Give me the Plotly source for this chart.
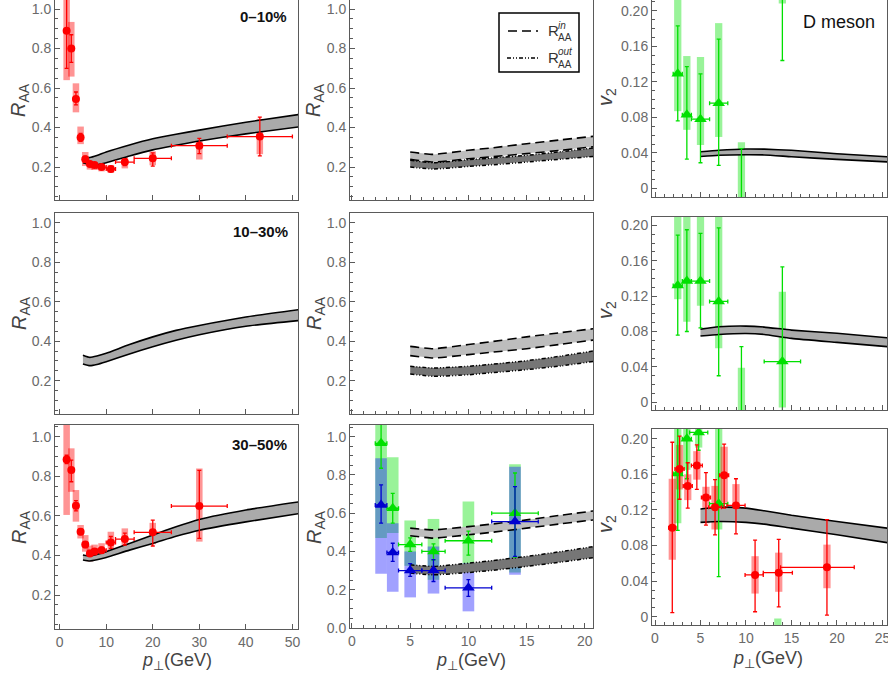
import plotly.graph_objects as go

W, H = 888, 676

# ---------------- theory bands ----------------
band_c1_x = [5, 6.5, 8, 10, 15, 20, 25, 30, 40, 52]
raa010_lo = [0.222, 0.212, 0.212, 0.222, 0.256, 0.287, 0.31, 0.332, 0.368, 0.405]
raa010_hi = [0.249, 0.248, 0.258, 0.276, 0.312, 0.343, 0.366, 0.387, 0.427, 0.468]
raa1030_lo = [0.285, 0.276, 0.282, 0.296, 0.335, 0.372, 0.405, 0.433, 0.476, 0.506]
raa1030_hi = [0.329, 0.318, 0.325, 0.339, 0.383, 0.422, 0.455, 0.48, 0.523, 0.562]
raa3050_lo = [0.377, 0.372, 0.378, 0.39, 0.427, 0.461, 0.497, 0.528, 0.57, 0.614]
raa3050_hi = [0.402, 0.397, 0.405, 0.419, 0.461, 0.503, 0.545, 0.582, 0.63, 0.673]

band_c2_x = [5, 7, 10, 12, 15, 18, 21]
in010_hi = [0.276, 0.264, 0.285, 0.297, 0.318, 0.338, 0.357]
in010_lo = [0.239, 0.225, 0.242, 0.252, 0.268, 0.285, 0.305]
out010_hi = [0.234, 0.222, 0.237, 0.246, 0.259, 0.278, 0.298]
out010_lo = [0.200, 0.190, 0.203, 0.211, 0.225, 0.240, 0.255]
in1030_hi = [0.374, 0.362, 0.383, 0.398, 0.422, 0.444, 0.465]
in1030_lo = [0.327, 0.315, 0.332, 0.344, 0.362, 0.385, 0.408]
out1030_hi = [0.273, 0.264, 0.273, 0.283, 0.301, 0.325, 0.353]
out1030_lo = [0.234, 0.222, 0.230, 0.240, 0.256, 0.275, 0.300]
in3050_hi = [0.522, 0.513, 0.530, 0.543, 0.565, 0.590, 0.614]
in3050_lo = [0.482, 0.470, 0.487, 0.500, 0.522, 0.545, 0.567]
out3050_hi = [0.330, 0.322, 0.339, 0.352, 0.374, 0.400, 0.428]
out3050_lo = [0.287, 0.278, 0.290, 0.301, 0.322, 0.345, 0.370]

band_c3_x = [5, 7, 10, 12, 15, 20, 26]
v2010_hi = [0.0413, 0.043, 0.0445, 0.0443, 0.043, 0.0392, 0.0355]
v2010_lo = [0.036, 0.0375, 0.038, 0.0378, 0.0358, 0.0328, 0.0298]
v21030_hi = [0.0827, 0.0853, 0.0861, 0.085, 0.0816, 0.078, 0.0725]
v21030_lo = [0.075, 0.0767, 0.0778, 0.0767, 0.0722, 0.0677, 0.0625]
v23050_hi = [0.121, 0.123, 0.122, 0.119, 0.114, 0.107, 0.0988]
v23050_lo = [0.106, 0.107, 0.106, 0.104, 0.0995, 0.092, 0.0825]

# ---------------- data: R_AA 0-10% ----------------
r010_x = [1.5, 2.5, 3.5, 4.5, 5.5, 6.5, 7.5, 9, 11, 14, 20, 30, 43]
r010_y = [0.89, 0.80, 0.545, 0.35, 0.24, 0.215, 0.21, 0.20, 0.19, 0.225, 0.244, 0.308, 0.354]
r010_xerr = [0.5, 0.5, 0.5, 0.5, 0.5, 0.5, 0.5, 1, 1, 2, 4, 6, 7]
r010_stat_hi = [0.2, 0.07, 0.035, 0.02, 0.015, 0.012, 0.012, 0.012, 0.012, 0.018, 0.028, 0.037, 0.099]
r010_stat_lo = [0.19, 0.07, 0.03, 0.02, 0.015, 0.012, 0.012, 0.012, 0.012, 0.018, 0.039, 0.04, 0.098]
r010_sys_hi = [0.22, 0.135, 0.079, 0.055, 0.036, 0.028, 0.025, 0.022, 0.02, 0.028, 0.035, 0.066, 0.09]
r010_sys_lo = [0.25, 0.142, 0.068, 0.034, 0.035, 0.028, 0.025, 0.022, 0.02, 0.032, 0.035, 0.07, 0.089]

# ---------------- data: R_AA 30-50% ----------------
r3050_x = [1.5, 2.5, 3.5, 4.5, 5.5, 6.5, 7.5, 9, 11, 14, 20, 30]
r3050_y = [0.885, 0.832, 0.651, 0.52, 0.455, 0.41, 0.42, 0.427, 0.466, 0.483, 0.517, 0.65]
r3050_xerr = [0.5, 0.5, 0.5, 0.5, 0.5, 0.5, 0.5, 1, 1, 2, 4, 6]
r3050_stat_hi = [0.022, 0.05, 0.026, 0.015, 0.015, 0.015, 0.015, 0.015, 0.03, 0.03, 0.062, 0.18]
r3050_stat_lo = [0.02, 0.059, 0.025, 0.015, 0.015, 0.015, 0.015, 0.015, 0.03, 0.03, 0.069, 0.164]
r3050_sys_hi = [0.2, 0.11, 0.08, 0.034, 0.048, 0.04, 0.035, 0.035, 0.054, 0.054, 0.048, 0.19]
r3050_sys_lo = [0.28, 0.11, 0.08, 0.034, 0.036, 0.04, 0.035, 0.035, 0.056, 0.056, 0.06, 0.18]

# ---------------- data: R_AA in/out plane 30-50% ----------------
rin_x = [2.5, 3.5, 5, 7, 10, 14]
rin_y = [0.965, 0.626, 0.436, 0.40, 0.456, 0.60]
rin_xerr = [0.5, 0.5, 1, 1, 2, 2]
rin_stat_hi = [0.1, 0.078, 0.035, 0.04, 0.05, 0.21]
rin_stat_lo = [0.13, 0.078, 0.035, 0.045, 0.075, 0.23]
rin_sys_hi = [0.15, 0.266, 0.126, 0.17, 0.205, 0.256]
rin_sys_lo = [0.495, 0.13, 0.111, 0.148, 0.134, 0.31]

rout_x = [2.5, 3.5, 5, 7, 10, 14]
rout_y = [0.643, 0.395, 0.30, 0.30, 0.21, 0.556]
rout_xerr = [0.5, 0.5, 1, 1, 2, 2]
rout_stat_hi = [0.105, 0.048, 0.036, 0.057, 0.043, 0.183]
rout_stat_lo = [0.095, 0.047, 0.03, 0.057, 0.045, 0.182]
rout_sys_hi = [0.244, 0.153, 0.10, 0.126, 0.13, 0.287]
rout_sys_lo = [0.36, 0.205, 0.14, 0.12, 0.123, 0.278]

# ---------------- data: v2 ----------------
v010_x = [2.5, 3.5, 5, 7, 9.5, 14]
v010_y = [0.129, 0.083, 0.078, 0.096, -0.03, 0.27]
v010_xerr = [0.5, 0.5, 1, 1, 1.5, 2]
v010_stat_hi = [0.054, 0.054, 0.051, 0.072, 0.075, 0.1]
v010_stat_lo = [0.053, 0.05, 0.049, 0.07, 0.1, 0.126]
v010_sys_hi = [0.1, 0.066, 0.07, 0.09, 0.082, 0.06]
v010_sys_lo = [0.042, 0.017, 0.029, 0.038, 0.1, 0.062]

v1030_x = [2.5, 3.5, 5, 7, 9.5, 14]
v1030_y = [0.132, 0.137, 0.137, 0.114, -0.03, 0.046]
v1030_xerr = [0.5, 0.5, 1, 1, 1.5, 2]
v1030_stat_hi = [0.057, 0.058, 0.054, 0.083, 0.093, 0.107]
v1030_stat_lo = [0.056, 0.057, 0.053, 0.084, 0.1, 0.07]
v1030_sys_hi = [0.1, 0.1, 0.1, 0.1, 0.069, 0.079]
v1030_sys_lo = [0.0155, 0.046, 0.028, 0.053, 0.1, 0.052]

v3050r_x = [1.9, 2.7, 3.6, 4.6, 5.6, 6.6, 7.6, 8.9, 11, 13.6, 18.9]
v3050r_y = [0.100, 0.166, 0.147, 0.170, 0.134, 0.123, 0.159, 0.125, 0.047, 0.0495, 0.0555]
v3050r_xerr_lo = [0.4, 0.5, 0.5, 0.6, 0.5, 0.7, 0.5, 1.0, 1.1, 1.7, 5.1]
v3050r_xerr_hi = [0.4, 0.5, 0.5, 0.6, 0.5, 0.7, 0.5, 1.0, 0.9, 1.5, 3.0]
v3050r_stat_hi = [0.096, 0.037, 0.026, 0.023, 0.028, 0.031, 0.035, 0.03, 0.039, 0.0375, 0.0535]
v3050r_stat_lo = [0.0955, 0.034, 0.025, 0.027, 0.031, 0.031, 0.037, 0.032, 0.0414, 0.0385, 0.0536]
v3050r_sys_hi = [0.055, 0.027, 0.013, 0.016, 0.012, 0.024, 0.032, 0.024, 0.021, 0.0225, 0.0255]
v3050r_sys_lo = [0.036, 0.023, 0.016, 0.016, 0.029, 0.025, 0.031, 0.016, 0.021, 0.0215, 0.0235]

v3050g_x = [2.5, 3.5, 4.8, 7, 13.5]
v3050g_y = [0.161, 0.20, 0.207, 0.127, -0.06]
v3050g_xerr = [0.5, 0.5, 1, 1, 1.5]
v3050g_stat_hi = [0.1, 0.1, 0.1, 0.1, 0.05]
v3050g_stat_lo = [0.064, 0.045, 0.02, 0.082, 0.05]
v3050g_sys_hi = [0.1, 0.1, 0.005, 0.1, 0.058]
v3050g_sys_lo = [0.056, 0.035, 0.017, 0.029, 0.05]

# ---------------- tick labels / texts ----------------
centralities = ["0\u201310%", "10\u201330%", "30\u201350%"]
v2_tickvals = [0, 0.04, 0.08, 0.12, 0.16, 0.20]
v2_ticktext = ["0", "0.04", "0.08", "0.12", "0.16", "0.20"]

# ---------------- styling ----------------
FONT = "Liberation Sans, Arial, sans-serif"
TICKC = "#6a6a6a"
LINEC = "#5a5a5a"
RED = "#ff0000"
RED_BOX = "rgba(255,0,0,0.42)"
GREEN = "#00e000"
GREEN_BOX = "rgba(0,225,0,0.40)"
BLUE = "#0000d0"
BLUE_BOX = "rgba(20,20,255,0.40)"

# panel frames in pixels: (x0, x1), (ytop, ybottom), x range, y range
panels = {
    (0, 0): ((55, 298), (0, 200), [-1, 51.2], [0.033, 1.046]),
    (0, 1): ((350, 593), (0, 200), [-0.17, 20.7], [0.033, 1.046]),
    (0, 2): ((652, 887), (0, 197), [-0.33, 25.5], [-0.0095, 0.212]),
    (1, 0): ((55, 298), (213, 414), [-1, 51.2], [0.031, 1.05]),
    (1, 1): ((350, 593), (213, 414), [-0.17, 20.7], [0.031, 1.05]),
    (1, 2): ((652, 887), (217, 410), [-0.33, 25.5], [-0.0087, 0.2094]),
    (2, 0): ((55, 298), (425, 629), [-1, 51.2], [0.028, 1.06]),
    (2, 1): ((350, 593), (425, 628), [-0.17, 20.7], [0.0, 1.061]),
    (2, 2): ((652, 887), (429, 625), [-0.33, 25.5], [-0.0093, 0.2109]),
}

fig = go.Figure()
layout_axes = {}


def ax_names(r, c):
    k = r * 3 + c + 1
    s = "" if k == 1 else str(k)
    return "x" + s, "y" + s, "xaxis" + s, "yaxis" + s


for (r, c), ((x0, x1), (yt, yb), xr, yr) in panels.items():
    xn, yn, xk, yk = ax_names(r, c)
    common = dict(showgrid=False, zeroline=False, showline=True, linecolor=LINEC,
                  linewidth=1, mirror=True, ticks="inside", ticklen=5, tickcolor=LINEC,
                  tickfont=dict(family=FONT, size=14, color=TICKC), automargin=False,
                  fixedrange=True, ticklabeloverflow="allow")
    xa = dict(common, domain=[x0 / W, x1 / W], range=xr, anchor=yn,
              showticklabels=(r == 2))
    if c == 0:
        xa.update(tick0=0, dtick=10)
    else:
        xa.update(tick0=0, dtick=5,
                  minor=dict(ticks="inside", ticklen=3, tick0=0, dtick=1, tickcolor=LINEC))
    ya = dict(common, domain=[1 - yb / H, 1 - yt / H], range=yr, anchor=xn)
    if c < 2:
        ya.update(tick0=0, dtick=0.2, tickformat=".1f",
                  minor=dict(ticks="inside", ticklen=3, tick0=0, dtick=0.05, tickcolor=LINEC))
    else:
        ya.update(tickmode="array", tickvals=v2_tickvals, ticktext=v2_ticktext,
                  minor=dict(ticks="inside", ticklen=3, tickmode="linear", tick0=0,
                             dtick=0.01, tickcolor=LINEC))
    layout_axes[xk] = xa
    layout_axes[yk] = ya


def band(r, c, x, lo, hi, fill, dash="solid", lw=1.6):
    xn, yn, _, _ = ax_names(r, c)
    fig.add_trace(go.Scatter(x=list(x) + list(x)[::-1], y=list(hi) + list(lo)[::-1],
                             fill="toself", fillcolor=fill, line=dict(width=0),
                             mode="lines", xaxis=xn, yaxis=yn, hoverinfo="skip"))
    for yy in (lo, hi):
        fig.add_trace(go.Scatter(x=x, y=yy, mode="lines", xaxis=xn, yaxis=yn,
                                 line=dict(color="black", width=lw, dash=dash, shape="spline",
                                           smoothing=0.5),
                                 hoverinfo="skip"))


def boxes(r, c, x, y, lo, hi, color, width):
    xn, yn, _, _ = ax_names(r, c)
    fig.add_trace(go.Bar(x=x, y=[h + l for h, l in zip(hi, lo)],
                         base=[v - l for v, l in zip(y, lo)], width=width,
                         marker=dict(color=color, line=dict(width=0)),
                         xaxis=xn, yaxis=yn, hoverinfo="skip"))


def points(r, c, x, y, xlo, xhi, slo, shi, color, symbol, size):
    xn, yn, _, _ = ax_names(r, c)
    fig.add_trace(go.Scatter(x=x, y=y, mode="markers", xaxis=xn, yaxis=yn,
                             marker=dict(color=color, symbol=symbol, size=size,
                                         line=dict(width=0)),
                             error_x=dict(type="data", symmetric=False, array=xhi,
                                          arrayminus=xlo, color=color, thickness=1.3, width=2),
                             error_y=dict(type="data", symmetric=False, array=shi,
                                          arrayminus=slo, color=color, thickness=1.3, width=2),
                             hoverinfo="skip"))


# ---- column 1: R_AA ----
boxes(0, 0, r010_x, r010_y, r010_sys_lo, r010_sys_hi, RED_BOX, 1.4)
boxes(2, 0, r3050_x, r3050_y, r3050_sys_lo, r3050_sys_hi, RED_BOX, 1.4)
band(0, 0, band_c1_x, raa010_lo, raa010_hi, "#aaaaaa")
band(1, 0, band_c1_x, raa1030_lo, raa1030_hi, "#aaaaaa")
band(2, 0, band_c1_x, raa3050_lo, raa3050_hi, "#aaaaaa")
points(0, 0, r010_x, r010_y, r010_xerr, r010_xerr, r010_stat_lo, r010_stat_hi, RED, "circle", 8)
points(2, 0, r3050_x, r3050_y, r3050_xerr, r3050_xerr, r3050_stat_lo, r3050_stat_hi, RED, "circle", 8)

# ---- column 2: R_AA in / out ----
boxes(2, 1, rin_x, rin_y, rin_sys_lo, rin_sys_hi, GREEN_BOX, 1.0)
boxes(2, 1, rout_x, rout_y, rout_sys_lo, rout_sys_hi, BLUE_BOX, 1.0)
OUT_DASH = "4px,2px,1px,2px,1px,2px"
for r, (ilo, ihi, olo, ohi) in enumerate([(in010_lo, in010_hi, out010_lo, out010_hi),
                                          (in1030_lo, in1030_hi, out1030_lo, out1030_hi),
                                          (in3050_lo, in3050_hi, out3050_lo, out3050_hi)]):
    band(r, 1, band_c2_x, olo, ohi, "#767676", dash=OUT_DASH, lw=1.5)
    band(r, 1, band_c2_x, ilo, ihi, "#bdbdbd", dash="9px,5px", lw=1.6)
points(2, 1, rin_x, rin_y, rin_xerr, rin_xerr, rin_stat_lo, rin_stat_hi, GREEN, "triangle-up", 11)
points(2, 1, rout_x, rout_y, rout_xerr, rout_xerr, rout_stat_lo, rout_stat_hi, BLUE, "triangle-up", 11)

# ---- column 3: v2 ----
boxes(0, 2, v010_x, v010_y, v010_sys_lo, v010_sys_hi, GREEN_BOX, 0.8)
boxes(1, 2, v1030_x, v1030_y, v1030_sys_lo, v1030_sys_hi, GREEN_BOX, 0.8)
boxes(2, 2, v3050g_x, v3050g_y, v3050g_sys_lo, v3050g_sys_hi, GREEN_BOX, 0.8)
boxes(2, 2, v3050r_x, v3050r_y, v3050r_sys_lo, v3050r_sys_hi, RED_BOX, 0.8)
band(0, 2, band_c3_x, v2010_lo, v2010_hi, "#aaaaaa")
band(1, 2, band_c3_x, v21030_lo, v21030_hi, "#aaaaaa")
band(2, 2, band_c3_x, v23050_lo, v23050_hi, "#aaaaaa")
points(0, 2, v010_x, v010_y, v010_xerr, v010_xerr, v010_stat_lo, v010_stat_hi, GREEN, "triangle-up", 11)
points(1, 2, v1030_x, v1030_y, v1030_xerr, v1030_xerr, v1030_stat_lo, v1030_stat_hi, GREEN, "triangle-up", 11)
points(2, 2, v3050g_x, v3050g_y, v3050g_xerr, v3050g_xerr, v3050g_stat_lo, v3050g_stat_hi, GREEN, "triangle-up", 11)
points(2, 2, v3050r_x, v3050r_y, v3050r_xerr_lo, v3050r_xerr_hi, v3050r_stat_lo, v3050r_stat_hi, RED, "circle", 8)

# ---------------- annotations ----------------
ann = []


def txt(px, py, text, size, color="#444444", angle=0, bold=False, xanchor="center"):
    ann.append(dict(x=px / W, y=1 - py / H, xref="paper", yref="paper", text=text,
                    showarrow=False, textangle=angle, xanchor=xanchor, yanchor="middle",
                    font=dict(family=FONT, size=size, color=color,
                              weight="bold" if bold else "normal")))


RAA = "<i>R</i><sub>AA</sub>"
V2 = "<i>v</i><sub>2</sub>"
PT = "<i>p</i><sub>\u22a5</sub>(GeV)"
row_mid = [100, 313, 527]
for r in range(3):
    txt(20, row_mid[r], RAA, 20, angle=-90)
    txt(315, row_mid[r], RAA, 20, angle=-90)
    txt(606, row_mid[r] - 3, V2, 20, angle=-90)
txt(177, 661, PT, 18)
txt(471, 661, PT, 18)
txt(768, 659, PT, 18)
txt(263, 16, centralities[0], 15, color="#111111", bold=True)
txt(260, 231, centralities[1], 15, color="#111111", bold=True)
txt(259, 444, centralities[2], 15, color="#111111", bold=True)
txt(839, 22, "D meson", 18, color="#111111")

# legend (inside top-middle panel)
txt(546, 31, "R", 15, color="#333333", xanchor="left")
txt(556, 25, "<i>in</i>", 10, color="#333333", xanchor="left")
txt(556, 37, "AA", 10, color="#333333", xanchor="left")
txt(546, 58, "R", 15, color="#333333", xanchor="left")
txt(556, 52, "<i>out</i>", 10, color="#333333", xanchor="left")
txt(556, 64, "AA", 10, color="#333333", xanchor="left")

shapes = [
    dict(type="rect", xref="paper", yref="paper", x0=499 / W, x1=579 / W,
         y0=1 - 72 / H, y1=1 - 13 / H, line=dict(color="black", width=1.5),
         fillcolor="white"),
    dict(type="line", xref="paper", yref="paper", x0=508 / W, x1=538 / W,
         y0=1 - 31 / H, y1=1 - 31 / H, line=dict(color="black", width=1.6, dash="9px,5px")),
    dict(type="line", xref="paper", yref="paper", x0=507 / W, x1=538 / W,
         y0=1 - 58 / H, y1=1 - 58 / H, line=dict(color="black", width=1.5, dash=OUT_DASH)),
]

fig.update_layout(width=W, height=H, margin=dict(l=0, r=0, t=0, b=0),
                  paper_bgcolor="white", plot_bgcolor="white", showlegend=False,
                  barmode="overlay", annotations=ann, shapes=shapes,
                  font=dict(family=FONT), **layout_axes)

fig.write_html("out.html")
